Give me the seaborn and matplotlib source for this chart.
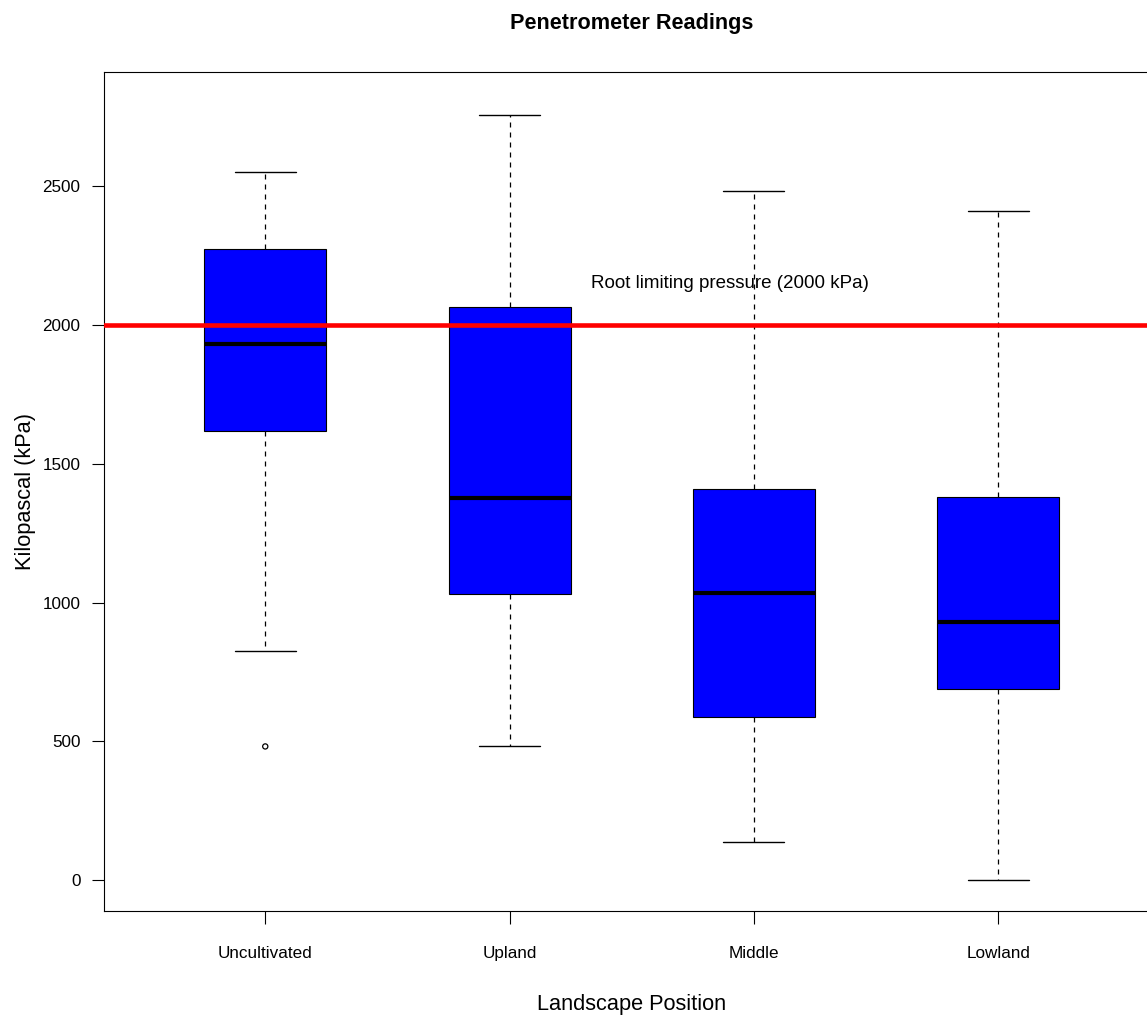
import numpy as np
import pandas as pd
import matplotlib
matplotlib.use("Agg")
import matplotlib.pyplot as plt
import seaborn as sns

# Landscape positions along the transect
positions = ["Uncultivated", "Upland", "Middle", "Lowland"]

# Five-number summaries (min, Q1, median, Q3, max) of penetrometer readings, kPa
uncultivated = [827, 1619, 1932, 2273, 2550]
upland = [484, 1033, 1378, 2066, 2757]
middle = [138, 587, 1034, 1410, 2482]
lowland = [0, 689, 931, 1380, 2410]

# Readings beyond the whiskers
outlier_position = ["Uncultivated"]
outlier_kpa = [482]

# Root limiting pressure threshold
root_limit = 2000
y_ticks = [0, 500, 1000, 1500, 2000, 2500]

readings = pd.DataFrame({
    "Landscape Position": np.repeat(positions, 5),
    "Kilopascal": uncultivated + upland + middle + lowland,
})

sns.set_style("ticks")
plt.rcParams["font.family"] = ["Liberation Sans", "DejaVu Sans"]
plt.rcParams["text.color"] = "black"
plt.rcParams["axes.labelcolor"] = "black"

fig = plt.figure(figsize=(11.47, 10.15), dpi=100)
W, H = 1147, 1015
ax = fig.add_axes([104 / W, (H - 911.3) / H, (1159.5 - 104) / W, (911.3 - 72) / H])

sns.boxplot(
    data=readings, x="Landscape Position", y="Kilopascal", order=positions,
    width=0.5, color="#0000FF", saturation=1, linecolor="black", linewidth=0.8,
    whis=1.5, fliersize=0, ax=ax,
    medianprops={"color": "black", "linewidth": 3.0, "solid_capstyle": "butt"},
    whiskerprops={"color": "black", "linewidth": 0.9, "linestyle": (0, (4, 4))},
    capprops={"color": "black", "linewidth": 1.0},
    capwidths=0.25,
)

# Outlying readings drawn as open circles
ax.scatter([positions.index(p) for p in outlier_position], outlier_kpa,
           s=14, facecolors="none", edgecolors="black", linewidths=0.9, zorder=4)

# Threshold line and its label
ax.axhline(root_limit, color="#FF0000", linewidth=3.3, zorder=5)
ax.text(1.9, 2150, "Root limiting pressure (2000 kPa)", fontsize=13.5,
        ha="center", va="center", color="black")

ax.set_xlim(-0.66, 3.66)
ax.set_ylim(-112, 2912)
ax.set_yticks(y_ticks)
ax.set_yticklabels([str(t) for t in y_ticks])

for side in ["left", "bottom", "top", "right"]:
    ax.spines[side].set_visible(True)
    ax.spines[side].set_color("black")
    ax.spines[side].set_linewidth(0.8)

ax.tick_params(axis="both", direction="out", length=9, width=0.8, colors="black",
               labelsize=12.3)
ax.tick_params(axis="x", pad=16)
ax.tick_params(axis="y", pad=8)

ax.set_title("Penetrometer Readings", fontsize=15.6, fontweight="bold", pad=31,
             color="black")
ax.set_xlabel("Landscape Position", fontsize=15.7, labelpad=23.5)
ax.set_ylabel("Kilopascal (kPa)", fontsize=15.7, labelpad=4.5)

fig.savefig("out.png", dpi=100)
